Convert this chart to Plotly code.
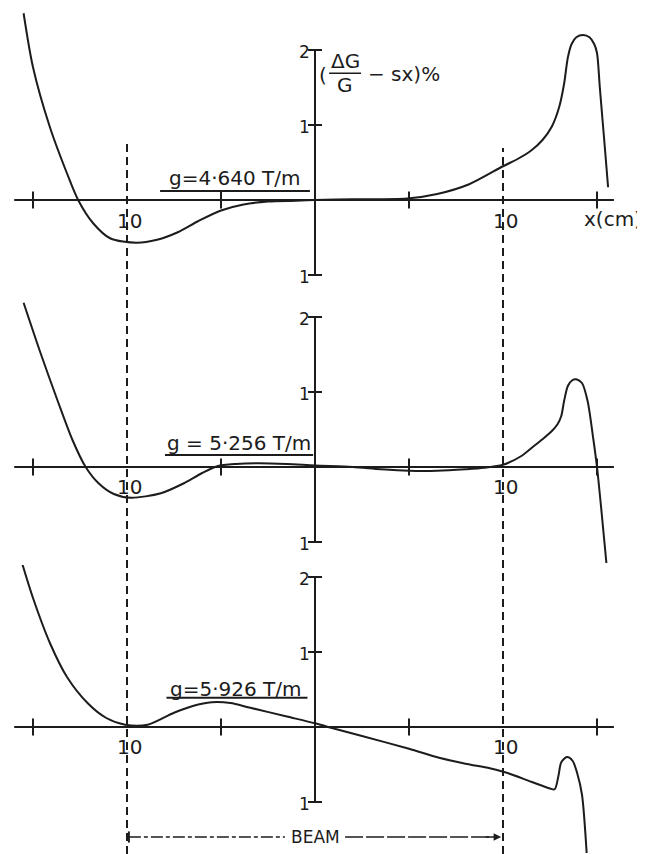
import plotly.graph_objects as go
from plotly.subplots import make_subplots

# curve data: x in cm, y = (dG/G - sx) in %
x_g4640 = [-15.5, -15.0, -14.1, -13.2, -12.6, -11.8, -10.9, -9.5, -8.4, -7.3, -6.2, -5.0,
           -3.8, -2.5, -1.0, 0.0, 2.0, 4.9, 6.5, 8.2, 10.0, 10.8, 11.5, 12.1, 12.6, 13.0,
           13.25, 13.45, 13.65, 13.9, 14.26, 14.6, 14.85, 15.0, 15.15, 15.3, 15.45, 15.59]
y_g4640 = [2.49, 1.77, 0.97, 0.36, 0.0, -0.31, -0.51, -0.57, -0.53, -0.43, -0.28, -0.14,
           -0.06, -0.02, -0.01, 0.0, 0.01, 0.02, 0.08, 0.21, 0.45, 0.55, 0.66, 0.8, 0.98, 1.25,
           1.55, 1.9, 2.08, 2.17, 2.2, 2.17, 2.08, 1.96, 1.5, 1.05, 0.6, 0.17]

x_g5256 = [-15.5, -14.6, -13.7, -12.9, -12.2, -11.5, -10.7, -9.8, -8.2, -7.0, -6.0, -5.2,
           -4.2, -3.0, -1.5, 0.0, 2.0, 3.5, 5.0, 6.5, 8.0, 9.0, 10.0, 11.0, 11.6, 12.1, 12.6,
           12.9, 13.1, 13.25, 13.45, 13.7, 13.9, 14.2, 14.5, 14.8, 15.0, 15.25, 15.5]
y_g5256 = [2.19, 1.52, 0.89, 0.36, 0.0, -0.22, -0.36, -0.41, -0.35, -0.22, -0.08, 0.01,
           0.04, 0.05, 0.04, 0.02, 0.0, -0.03, -0.05, -0.05, -0.03, -0.01, 0.03, 0.15, 0.27, 0.37, 0.48,
           0.57, 0.68, 0.88, 1.08, 1.16, 1.17, 1.12, 0.88, 0.38, 0.0, -0.62, -1.28]

x_g5926 = [-15.6, -15.0, -14.1, -13.2, -12.1, -11.1, -10.1, -8.9, -7.5, -6.5, -5.5, -4.5,
           -3.5, -1.5, 0.0, 1.0, 2.5, 5.0, 6.6, 8.0, 9.3, 10.2, 11.5, 12.5, 12.75, 12.95,
           13.1, 13.4, 13.7, 13.95, 14.2, 14.45]
y_g5926 = [2.2, 1.72, 1.12, 0.67, 0.32, 0.12, 0.03, 0.03, 0.19, 0.28, 0.33, 0.32,
           0.26, 0.14, 0.05, -0.02, -0.12, -0.29, -0.41, -0.49, -0.55, -0.61, -0.73, -0.82, -0.83, -0.65,
           -0.47, -0.4, -0.45, -0.62, -0.9, -1.68]

curves_x = [x_g4640, x_g5256, x_g5926]
curves_y = [y_g4640, y_g5256, y_g5926]
g_labels = ["g=4·640 T/m", "g = 5·256 T/m", "g=5·926 T/m"]

x_ticks = [-15, -5, 5, 15]
x_ticklabel_vals = [-10, 10]
x_ticklabels = ["10", "10"]
y_ticks = [-1, 1, 2]
y_ticklabels = ["1", "1", "2"]
beam_limits = [-10, 10]

INK = "#1c1c1c"
FONT = "DejaVu Sans, sans-serif"

# the page body has an 8px margin: screen px = figure px + OFF
OFF = 8
W, H = 645 - OFF, 854 - OFF
PX_CM = 18.8      # px per cm
PX_PCT = 75       # px per %
X0_PX = 315       # screen px of x = 0

# screen-pixel band of each panel and its zero line
bands = [(OFF, 285), (285, 565), (565, 854)]
zero_px = [200, 467, 727]
heights = [b - a for a, b in bands]

fig = make_subplots(rows=3, cols=1, vertical_spacing=0, row_heights=heights)

for i in range(3):
    r = i + 1
    fig.add_trace(go.Scatter(x=[-16.0, 15.9], y=[0, 0], mode="lines",
                             line=dict(color=INK, width=2), hoverinfo="skip"), row=r, col=1)
    fig.add_trace(go.Scatter(x=x_ticks, y=[0] * len(x_ticks), mode="markers",
                             marker=dict(symbol="line-ns", size=12, line=dict(color=INK, width=2)),
                             hoverinfo="skip"), row=r, col=1)
    fig.add_trace(go.Scatter(x=[0, 0], y=[min(y_ticks), max(y_ticks)], mode="lines",
                             line=dict(color=INK, width=2), hoverinfo="skip"), row=r, col=1)
    fig.add_trace(go.Scatter(x=[0] * len(y_ticks), y=y_ticks, mode="markers",
                             marker=dict(symbol="line-ew", size=10, line=dict(color=INK, width=2)),
                             hoverinfo="skip"), row=r, col=1)
    fig.add_trace(go.Scatter(x=curves_x[i], y=curves_y[i], mode="lines",
                             line=dict(color=INK, width=2, shape="spline", smoothing=0.8),
                             hoverinfo="skip"), row=r, col=1)

for i in range(3):
    z = zero_px[i]
    top, bot = bands[i]
    fig.update_yaxes(range=[(z - bot) / PX_PCT, (z - top) / PX_PCT], row=i + 1, col=1)
fig.update_yaxes(visible=False, fixedrange=True)
fig.update_xaxes(visible=False, range=[(OFF - X0_PX) / PX_CM, (645 - X0_PX) / PX_CM])

ann = []
shapes = []
txt = dict(family=FONT, color=INK)
g_pos = [(-4.26, 0.29, 0.12, -8.24, -0.27), (-4.04, 0.32, 0.16, -7.98, -0.1), (-4.2, 0.51, 0.39, -7.9, -0.4)]
ten_y = [-0.28, -0.27, -0.27]
for i in range(3):
    xr = "x" if i == 0 else "x%d" % (i + 1)
    yr = "y" if i == 0 else "y%d" % (i + 1)
    gx, gy, uy, u0, u1 = g_pos[i]
    ann.append(dict(x=gx, y=gy, xref=xr, yref=yr, text=g_labels[i], showarrow=False,
                    font=dict(size=20, **txt)))
    shapes.append(dict(type="line", xref=xr, yref=yr, x0=u0, x1=u1, y0=uy, y1=uy,
                       line=dict(color=INK, width=2)))
    for v, lab in zip(x_ticklabel_vals, x_ticklabels):
        ann.append(dict(x=v + 0.15, y=ten_y[i], xref=xr, yref=yr, text=lab, showarrow=False,
                        font=dict(size=20, **txt)))
    for v, lab in zip(y_ticks, y_ticklabels):
        ann.append(dict(x=-0.15, y=v, xref=xr, yref=yr, text=lab, showarrow=False,
                        xanchor="right", yanchor="middle", yshift=-2, font=dict(size=17, **txt)))

# axis units, panel 1
ann.append(dict(x=(644 - X0_PX) / PX_CM, y=-0.25, xref="x", yref="y", text="x(cm)",
                showarrow=False, xanchor="right", font=dict(size=20, **txt)))
ann.append(dict(x=0.45, y=1.67, xref="x", yref="y", text="(", showarrow=False,
                font=dict(size=20, **txt)))
ann.append(dict(x=1.6, y=1.85, xref="x", yref="y", text="ΔG", showarrow=False,
                font=dict(size=20, **txt)))
ann.append(dict(x=1.6, y=1.53, xref="x", yref="y", text="G", showarrow=False,
                font=dict(size=20, **txt)))
shapes.append(dict(type="line", xref="x", yref="y", x0=0.75, x1=2.45, y0=1.69, y1=1.69,
                   line=dict(color=INK, width=1.5)))
ann.append(dict(x=2.7, y=1.68, xref="x", yref="y", text="− sx)%", showarrow=False,
                xanchor="left", font=dict(size=20, **txt)))

# beam limits: dashed verticals through all panels
for v, top_px in zip(beam_limits, [143, 148]):
    shapes.append(dict(type="line", xref="x", yref="paper", x0=v, x1=v, y0=0,
                       y1=1 - (top_px - OFF) / H, line=dict(color=INK, width=2, dash="8px,5px")))

beam_y = (727 - 837) / PX_PCT
fig.add_trace(go.Scatter(x=[beam_limits[0] + 0.1, -1.6], y=[beam_y, beam_y], mode="lines",
                         line=dict(color=INK, width=1.5, dash="12px,3px,4px,3px"),
                         hoverinfo="skip"), row=3, col=1)
fig.add_trace(go.Scatter(x=[1.6, beam_limits[1] - 0.6], y=[beam_y, beam_y], mode="lines",
                         line=dict(color=INK, width=1.5, dash="18px,3px"),
                         hoverinfo="skip"), row=3, col=1)
fig.add_trace(go.Scatter(x=[beam_limits[0] + 0.1], y=[beam_y], mode="markers",
                         marker=dict(symbol="line-ns", size=8, line=dict(color=INK, width=2)),
                         hoverinfo="skip"), row=3, col=1)
ann.append(dict(x=beam_limits[1] - 0.1, y=beam_y, ax=beam_limits[1] - 1.0, ay=beam_y,
                xref="x3", yref="y3", axref="x3", ayref="y3", text="", showarrow=True,
                arrowhead=2, arrowsize=1, arrowwidth=1.5, arrowcolor=INK))
ann.append(dict(x=0, y=beam_y, xref="x3", yref="y3", text="BEAM", showarrow=False,
                font=dict(size=17, **txt)))

fig.update_layout(width=W, height=H, margin=dict(l=0, r=0, t=0, b=0),
                  showlegend=False, plot_bgcolor="white", paper_bgcolor="white",
                  annotations=ann, shapes=shapes)

fig.write_html("out.html")
